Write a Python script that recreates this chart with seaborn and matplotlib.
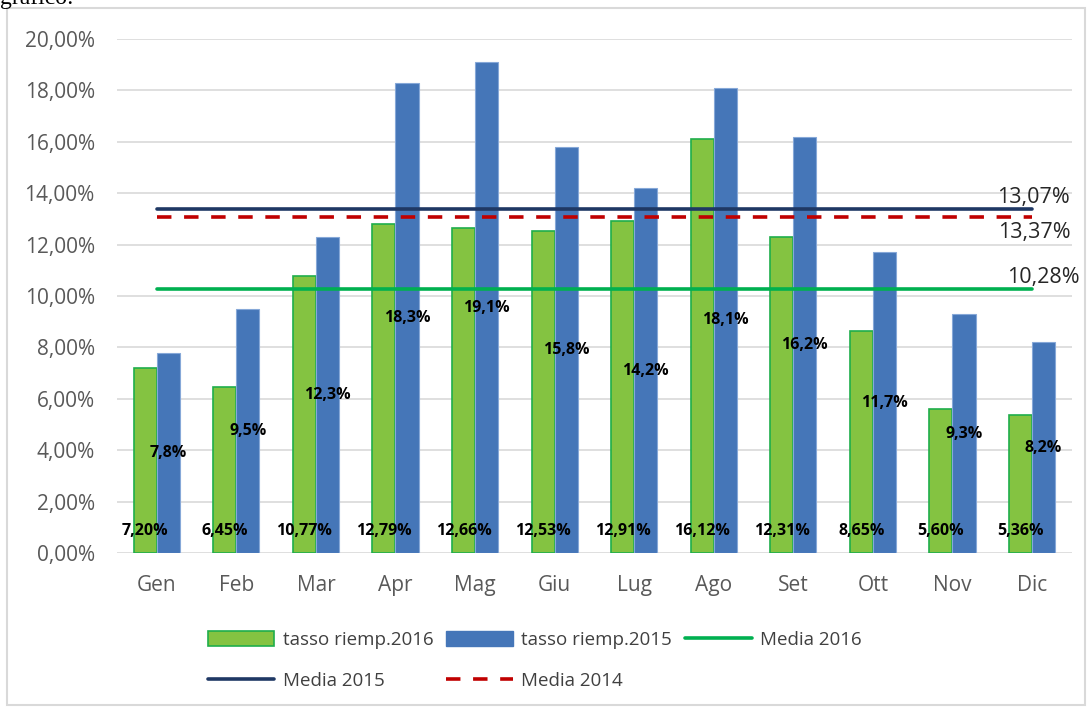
import matplotlib.pyplot as plt
import seaborn as sns
import pandas as pd
import numpy as np
from matplotlib.patches import Rectangle, Patch
from matplotlib.lines import Line2D

sns.set_theme(style="white")
plt.rcParams['font.family'] = ['Open Sans', 'DejaVu Sans']

# --- dati ---
mesi = ['Gen', 'Feb', 'Mar', 'Apr', 'Mag', 'Giu', 'Lug', 'Ago', 'Set', 'Ott', 'Nov', 'Dic']
tasso_2016 = [7.20, 6.45, 10.77, 12.79, 12.66, 12.53, 12.91, 16.12, 12.31, 8.65, 5.60, 5.36]
tasso_2015 = [7.8, 9.5, 12.3, 18.3, 19.1, 15.8, 14.2, 18.1, 16.2, 11.7, 9.3, 8.2]
media_2016 = 10.28
media_2015 = 13.37
media_2014 = 13.07
yticks = [0, 2, 4, 6, 8, 10, 12, 14, 16, 18, 20]

df = pd.DataFrame({
    'Mese': mesi * 2,
    'Valore': tasso_2016 + tasso_2015,
    'Serie': ['tasso riemp.2016'] * 12 + ['tasso riemp.2015'] * 12,
})

verde = '#84c341'
verde_bordo = '#1fae4b'
blu = '#4576b8'
navy = '#1f3864'
rosso = '#c00000'
verde_linea = '#00b050'
tratteggio = (0, (4, 3.5))

fig = plt.figure(figsize=(10.9, 7.07), dpi=100)
ax = fig.add_axes([0.1073, 0.2178, 0.876, 0.727])

sns.barplot(data=df, x='Mese', y='Valore', hue='Serie', order=mesi,
            hue_order=['tasso riemp.2016', 'tasso riemp.2015'],
            palette=[verde, blu], width=0.58, saturation=1, ax=ax, legend=False)

bars_16 = ax.containers[0]
bars_15 = ax.containers[1]
for b in bars_16:
    b.set_edgecolor(verde_bordo)
    b.set_linewidth(1.2)
for b in bars_15:
    b.set_edgecolor('#86a8d8')
    b.set_linewidth(0.8)

# linee delle medie (da Gen a Dic)
x = np.arange(len(mesi))
ax.plot(x, [media_2015] * len(mesi), color=navy, lw=2.6, solid_capstyle='round', zorder=4)
ax.plot(x, [media_2014] * len(mesi), color=rosso, lw=2.6, ls=tratteggio, zorder=4)
ax.plot(x, [media_2016] * len(mesi), color=verde_linea, lw=2.6, solid_capstyle='round', zorder=4)

fmt = lambda v, d: f"{v:.{d}f}%".replace('.', ',')

# etichette barre
for b, v in zip(bars_15, tasso_2015):
    ax.text(b.get_x() + b.get_width() / 2, v / 2, fmt(v, 1), ha='center', va='center',
            fontsize=11.5, fontweight='bold', color='black', zorder=6)
for b, v in zip(bars_16, tasso_2016):
    ax.text(b.get_x() + b.get_width() / 2, 0.86, fmt(v, 2), ha='center', va='center',
            fontsize=11.5, fontweight='bold', color='black', zorder=6)

# etichette medie
ax.text(11.48, media_2015 + 0.05, fmt(media_2014, 2), ha='right', va='bottom',
        fontsize=15.5, color='#262626', clip_on=False, zorder=6)
ax.text(11.48, media_2014 - 0.2, fmt(media_2015, 2), ha='right', va='top',
        fontsize=15.5, color='#262626', clip_on=False, zorder=6)
ax.text(11.6, media_2016 + 0.05, fmt(media_2016, 2), ha='right', va='bottom',
        fontsize=15.5, color='#262626', clip_on=False, zorder=6)

ax.set_ylim(0, 20)
ax.set_xlim(-0.5, 11.5)
ax.set_yticks(yticks)
ax.set_yticklabels([fmt(t, 2) for t in yticks])
ax.yaxis.grid(True, color='#d9d9d9', lw=1.2)
ax.set_axisbelow(True)
for s in ax.spines.values():
    s.set_visible(False)
ax.tick_params(axis='y', length=0, pad=16, labelsize=15, labelcolor='#595959')
ax.tick_params(axis='x', length=0, pad=16, labelsize=15, labelcolor='#595959')
ax.set_xlabel('')
ax.set_ylabel('')

# legenda
handles = [
    Patch(facecolor=verde, edgecolor=verde_bordo, lw=1.2, label='tasso riemp.2016'),
    Patch(facecolor=blu, edgecolor=blu, label='tasso riemp.2015'),
    Line2D([], [], color=verde_linea, lw=2.6, label='Media 2016'),
    Line2D([], [], color=navy, lw=2.6, label='Media 2015'),
    Line2D([], [], color=rosso, lw=2.6, ls=tratteggio, label='Media 2014'),
]
order = [0, 3, 1, 4, 2]
fig.legend([handles[i] for i in order], [handles[i].get_label() for i in order],
           ncol=3, loc='upper left', bbox_to_anchor=(0.175, 0.131), frameon=False,
           fontsize=13.5, handlelength=3.55, handleheight=0.85, labelspacing=1.2,
           columnspacing=0.7, handletextpad=0.45, labelcolor='#404040')

# cornice del grafico
fig.patches.append(Rectangle((7 / 1090, 2 / 707), 1078 / 1090, 697 / 707, transform=fig.transFigure,
                             fill=False, edgecolor='#d9d9d9', lw=1.5))
fig.text(0.0, 1 - 4 / 707, 'grafico:', family='Liberation Serif', fontsize=17,
         ha='left', va='baseline', color='black')

fig.savefig('out.png', dpi=100)
